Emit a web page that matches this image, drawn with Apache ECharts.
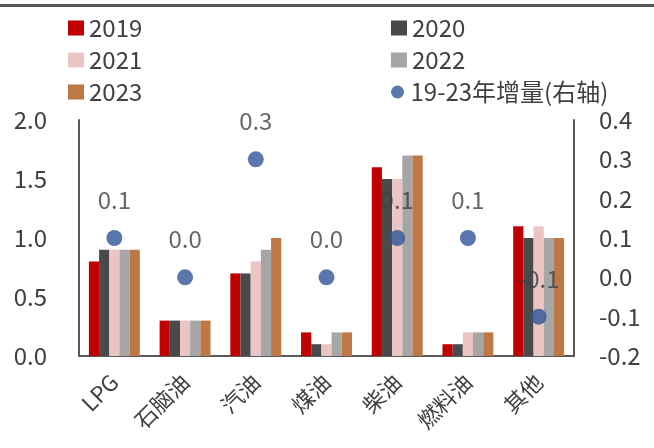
<!DOCTYPE html>
<html>
<head>
<meta charset="utf-8">
<script src="https://cdn.jsdelivr.net/npm/echarts@6/dist/echarts.min.js"></script>
<style>
  html, body { margin: 0; padding: 0; background: #fff; }
  #chart { width: 654px; height: 448px; }
</style>
</head>
<body>
<div id="chart"></div>
<script>
// Product categories
const categories = ['LPG', '石脑油', '汽油', '煤油', '柴油', '燃料油', '其他'];

// Yearly volumes (left axis)
const v2019 = [0.8, 0.3, 0.7, 0.2, 1.6, 0.1, 1.1];
const v2020 = [0.9, 0.3, 0.7, 0.1, 1.5, 0.1, 1.0];
const v2021 = [0.9, 0.3, 0.8, 0.1, 1.5, 0.2, 1.1];
const v2022 = [0.9, 0.3, 0.9, 0.2, 1.7, 0.2, 1.0];
const v2023 = [0.9, 0.3, 1.0, 0.2, 1.7, 0.2, 1.0];

// 2019-2023 change (right axis)
const delta = [0.1, 0.0, 0.3, 0.0, 0.1, 0.1, -0.1];

const leftTicks = { min: 0, max: 2, interval: 0.5 };
const rightTicks = { min: -0.2, max: 0.4, interval: 0.1 };

const textColor = '#404040';
const axisColor = '#595959';
const font = '"Noto Sans CJK SC", "Noto Sans", sans-serif';
const fs = 24;

const barNames = ['2019', '2020', '2021', '2022', '2023'];
const barData = [v2019, v2020, v2021, v2022, v2023];
const barColors = ['#C00000', '#4A4A4C', '#EBC4C4', '#A6A6A6', '#BD7846'];
const deltaName = '19-23年增量(右轴)';

const barSeries = barNames.map((n, i) => ({
  name: n,
  type: 'bar',
  data: barData[i],
  yAxisIndex: 0,
  itemStyle: { color: barColors[i] },
  barGap: '0%',
  barCategoryGap: '28%',
  z: 2
}));

const chart = echarts.init(document.getElementById('chart'), null, { renderer: 'canvas' });

const legendText = { color: textColor, fontSize: fs, fontFamily: font };

chart.setOption({
  animation: false,
  backgroundColor: '#ffffff',
  textStyle: { fontFamily: font },
  graphic: [
    { type: 'rect', left: 0, top: 4, shape: { width: 654, height: 3 }, style: { fill: '#555555' } }
  ],
  legend: [
    {
      left: 63, top: 11, orient: 'vertical', itemGap: 8,
      itemWidth: 16, itemHeight: 15,
      textStyle: legendText,
      data: [
        { name: '2019', icon: 'rect' },
        { name: '2021', icon: 'rect' },
        { name: '2023', icon: 'rect' }
      ]
    },
    {
      left: 386, top: 11, orient: 'vertical', itemGap: 8,
      itemWidth: 16, itemHeight: 15,
      textStyle: legendText,
      data: [
        { name: '2020', icon: 'rect' },
        { name: '2022', icon: 'rect' }
      ]
    },
    {
      left: 386, top: 75, orient: 'vertical',
      itemWidth: 16, itemHeight: 13,
      textStyle: legendText,
      data: [{ name: deltaName, icon: 'circle' }]
    }
  ],
  grid: { left: 79, right: 80, top: 120, bottom: 92, containLabel: false },
  xAxis: {
    type: 'category',
    data: categories,
    axisLine: { show: true, lineStyle: { color: axisColor, width: 2 } },
    axisTick: { show: false },
    axisLabel: { color: textColor, fontSize: 22, fontFamily: font, rotate: 45, margin: 22, interval: 0 }
  },
  yAxis: [
    {
      type: 'value',
      min: leftTicks.min, max: leftTicks.max, interval: leftTicks.interval,
      axisLine: { show: true, lineStyle: { color: axisColor, width: 2 } },
      axisTick: { show: false },
      splitLine: { show: false },
      axisLabel: { color: textColor, fontSize: fs, fontFamily: font, margin: 32,
        formatter: v => v.toFixed(1) }
    },
    {
      type: 'value',
      position: 'right',
      min: rightTicks.min, max: rightTicks.max, interval: rightTicks.interval,
      axisLine: { show: true, lineStyle: { color: axisColor, width: 2 } },
      axisTick: { show: false },
      splitLine: { show: false },
      axisLabel: { color: textColor, fontSize: fs, fontFamily: font, margin: 25,
        formatter: v => v.toFixed(1) }
    }
  ],
  series: barSeries.concat([
    {
      name: deltaName,
      type: 'scatter',
      yAxisIndex: 1,
      data: delta,
      symbolSize: 16,
      itemStyle: { color: '#2F5597' },
      z: 3,
      label: {
        show: true, position: 'top', distance: 18,
        color: textColor, fontSize: fs, fontFamily: font,
        formatter: p => p.value.toFixed(1)
      },
      labelLayout: { hideOverlap: false }
    }
  ])
});
</script>
</body>
</html>
